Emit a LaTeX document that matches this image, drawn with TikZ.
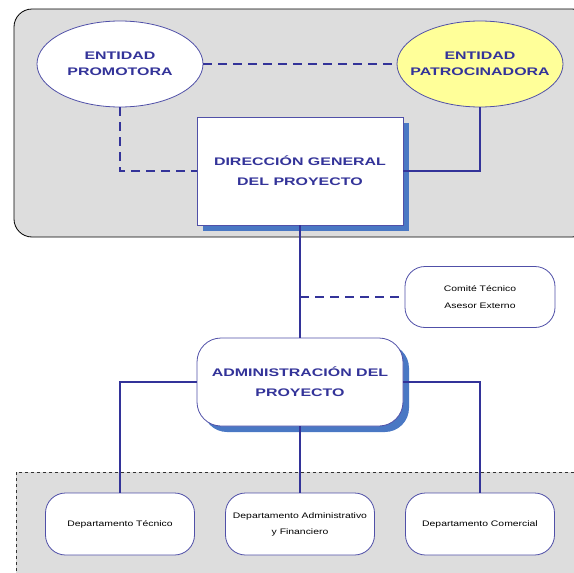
\documentclass[tikz,border=0pt]{standalone}
\usepackage{fontspec}
\setmainfont{Liberation Sans}
\newfontfamily\widefont[FakeStretch=1.45]{Liberation Sans}
\newfontfamily\smallwide[FakeStretch=1.3]{Liberation Sans}
\usetikzlibrary{shapes.geometric}
\definecolor{navy}{HTML}{333399}
\definecolor{edge}{HTML}{5050A8}
\definecolor{panel}{HTML}{DDDDDD}
\definecolor{pale}{HTML}{FFFF99}
\definecolor{shadowblue}{HTML}{4A78C4}
\newcommand{\zw}[1]{\makebox[0pt]{#1}}
\tikzset{
  x=1pt, y=-1pt,
  link/.style={draw=navy, line width=2pt},
  dlink/.style={link, dash pattern=on 9pt off 6pt},
  oval/.style={ellipse, draw=edge, line width=0.8pt, fill=white, minimum width=166pt, minimum height=86pt, align=center, text=navy, font=\widefont\bfseries\fontsize{11}{16}\selectfont},
  mainbox/.style={draw=edge, line width=0.8pt, fill=white, minimum width=206pt, minimum height=108pt, align=center, text=navy, font=\widefont\bfseries\fontsize{11}{20}\selectfont},
  pill/.style={draw=edge, line width=0.8pt, fill=white, rounded corners=20pt, align=center, font=\smallwide\fontsize{8}{17}\selectfont},
}
\begin{document}
\begin{tikzpicture}
\useasboundingbox (0,0) rectangle (574,573);
% upper panel
\draw[fill=panel, draw=black, line width=0.8pt, rounded corners=18pt] (14,9) rectangle (590,237);
% lower panel
\draw[fill=panel, draw=black!80, line width=0.6pt, dashed] (16,472) rectangle (590,600);

% upper group
\node[oval] (prom) at (120,64) {\zw{ENTIDAD}\\\zw{PROMOTORA}};
\node[oval, fill=pale] (patr) at (480,64) {\zw{ENTIDAD}\\\zw{PATROCINADORA}};
\fill[shadowblue] (203,123) rectangle (409,231);
\node[mainbox] (dir) at (300,171) {DIRECCIÓN GENERAL\\DEL PROYECTO};

% middle
\node[pill, minimum width=150pt, minimum height=61pt] (ases) at (480,297) {Comité Técnico\\Asesor Externo};
\fill[shadowblue, rounded corners=24pt] (203,344) rectangle (409,432);
\node[draw=edge, line width=0.8pt, fill=white, rounded corners=24pt, minimum width=206pt, minimum height=88pt, align=center, text=navy, font=\widefont\bfseries\fontsize{11}{20}\selectfont] (adm) at (300,382) {ADMINISTRACIÓN DEL\\PROYECTO};

% lower group
\node[pill, minimum width=149pt, minimum height=62pt] (a1) at (120,524) {Departamento Técnico};
\node[pill, minimum width=149pt, minimum height=62pt, font=\smallwide\fontsize{8}{16}\selectfont] (a2) at (300,524) {Departamento Administrativo\\y Financiero};
\node[pill, minimum width=149pt, minimum height=62pt] (a3) at (480,524) {Departamento Comercial};

% connectors
\draw[dlink] (prom.east) -- (patr.west);
\draw[dlink] (prom.south) |- (dir.west);
\draw[link] (patr.south) |- (dir.east);
\draw[link] (dir.south) -- (adm.north);
\coordinate (br) at (300,297);
\draw[dlink] (br) -- (ases.west);
\draw[link] (adm.west) -| (a1.north);
\draw[link] (adm.east) -| (a3.north);
\draw[link] (adm.south) -- (a2.north);
\end{tikzpicture}
\end{document}
